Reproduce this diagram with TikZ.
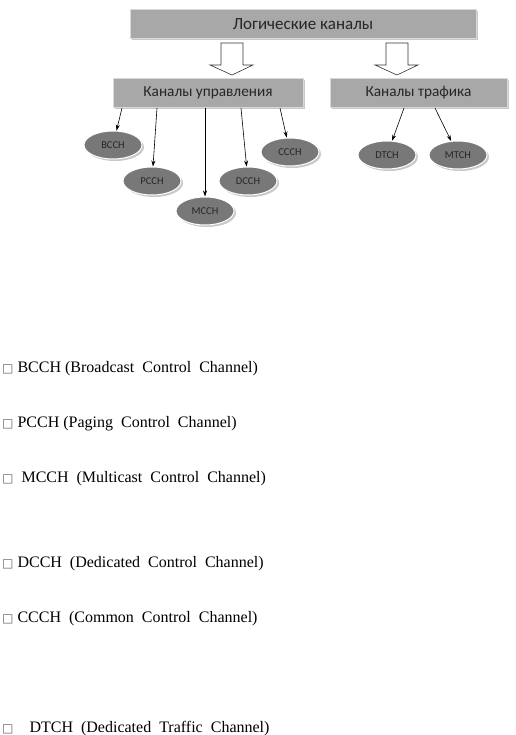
\documentclass[tikz,border=0pt]{standalone}
\usepackage{fontspec}
\setmainfont{Liberation Serif}
\newfontfamily\diagfont{Carlito}
\newfontfamily\symfont{DejaVu Sans}
\usetikzlibrary{arrows.meta,shadows,shapes.geometric}
\definecolor{boxgray}{HTML}{A8A8A8}
\definecolor{ellgray}{HTML}{787878}
\definecolor{shadgray}{HTML}{C8C8C8}
\begin{document}
\begin{tikzpicture}[x=1pt,y=-1pt,
  hdrbox/.style={draw=white!85!black, line width=0.6pt, fill=boxgray, inner sep=0pt,
     font=\diagfont\fontsize{15.3}{18}\selectfont, text=black!85,
     drop shadow={shadow xshift=2pt, shadow yshift=-2pt, fill=shadgray, opacity=1}},
  chan/.style={ellipse, draw=white, line width=1pt, fill=ellgray, minimum width=58pt, minimum height=28pt, inner sep=0pt,
     font=\diagfont\fontsize{10.5}{12}\selectfont, text=black!85,
     drop shadow={shadow xshift=2pt, shadow yshift=-2pt, fill=shadgray, opacity=1}},
  link/.style={-{Stealth[length=6pt,width=4pt]}, line width=0.6pt},
  hollow/.style={draw=black!80, line width=0.6pt, fill=white},
  item/.style={anchor=base west, inner sep=0pt, font=\fontsize{16}{18}\selectfont}
]
\useasboundingbox (0,0) rectangle (515,735);
\fill[white] (0,0) rectangle (515,735);

% boxes
\node[hdrbox, minimum width=346pt, minimum height=29pt, font=\diagfont\fontsize{17}{20}\selectfont] (top) at (303,24) {Логические каналы};
\node[hdrbox, minimum width=190pt, minimum height=29pt] (ctrl) at (208,93) {Каналы управления};
\node[hdrbox, minimum width=177pt, minimum height=29pt] (traf) at (418.5,93) {Каналы трафика};

% hollow arrows
\draw[hollow] (221,43) -- (243,43) -- (243,65) -- (253,65) -- (232,75) -- (210,65) -- (221,65) -- cycle;
\draw[hollow] (386,43) -- (408,43) -- (408,65) -- (418,65) -- (397,75) -- (375,65) -- (386,65) -- cycle;

% channels
\node[chan] (bcch) at (113,145) {BCCH};
\node[chan] (pcch) at (152,181) {PCCH};
\node[chan] (mcch) at (205,211) {MCCH};
\node[chan] (dcch) at (248,181) {DCCH};
\node[chan] (ccch) at (290,152) {CCCH};
\node[chan] (dtch) at (387,155) {DTCH};
\node[chan] (mtch) at (458,155) {MTCH};

% connector start points on the bottom of the boxes
\coordinate (sb) at (122,108);
\coordinate (sp) at (157,108);
\coordinate (sm) at (205,108);
\coordinate (sd) at (241,108);
\coordinate (sc) at (280,108);
\coordinate (st) at (404,108);
\coordinate (su) at (435,108);
\draw[link] (sb) -- (bcch);
\draw[link] (sp) -- (pcch);
\draw[link] (sm) -- (mcch);
\draw[link] (sd) -- (dcch);
\draw[link] (sc) -- (ccch);
\draw[link] (st) -- (dtch);
\draw[link] (su) -- (mtch);

% list
\newcommand\bx{{\symfont\fontsize{12}{14}\selectfont\textcolor{black!60}{□}}}
\node[item] (l1) at (2,372) {\bx\ BCCH (Broadcast\ \ Control\ \ Channel)};
\node[item] (l2) at (2,427) {\bx\ PCCH (Paging\ \ Control\ \ Channel)};
\node[item] (l3) at (2,482) {\bx\ \ MCCH\ \ (Multicast\ \ Control\ \ Channel)};
\node[item] (l4) at (2,567) {\bx\ DCCH\ \ (Dedicated\ \ Control\ \ Channel)};
\node[item] (l5) at (2,622) {\bx\ CCCH\ \ (Common\ \ Control\ \ Channel)};
\node[item] (l6) at (2,732) {\bx\ \ \ \ DTCH\ \ (Dedicated\ \ Traffic\ \ Channel)};
\end{tikzpicture}
\end{document}
